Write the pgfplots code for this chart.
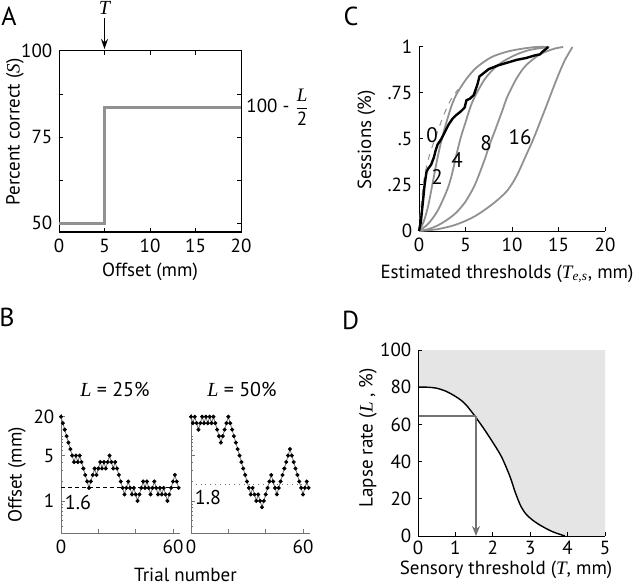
\documentclass[border=0pt]{standalone}
\usepackage{fontspec}
\setmainfont{PT Sans}
\newfontfamily\tnr{Liberation Serif}
\usepackage{pgfplots}
\usepackage{pgfplotstable}
\pgfplotsset{compat=1.18}
\usetikzlibrary{arrows.meta}
\newcommand{\vi}[1]{{\tnr\itshape #1}}
\definecolor{lgray}{gray}{0.57}
\definecolor{agray}{gray}{0.45}

\pgfplotstableread{
t y
0 20
1 15.89
2 12.62
3 10.02
4 7.96
5 6.32
6 5.02
7 3.99
8 5.02
9 3.99
10 5.02
11 3.99
12 3.17
13 2.52
14 2.00
15 1.59
16 2.00
17 2.52
18 3.17
19 2.52
20 3.17
21 3.99
22 3.17
23 3.99
24 3.17
25 3.99
26 5.02
27 3.99
28 3.17
29 3.99
30 3.17
31 2.52
32 2.00
33 1.59
34 1.26
35 1.59
36 2.00
37 1.59
38 1.26
39 1.59
40 1.26
41 1.00
42 1.26
43 1.59
44 2.00
45 1.59
46 2.00
47 1.59
48 1.26
49 1.59
50 2.00
51 1.59
52 1.26
53 1.59
54 1.26
55 1.59
56 1.26
57 1.00
58 1.26
59 1.59
60 2.00
61 2.52
62 2.00
63 1.59
}\leftdata

\pgfplotstableread{
t y
0 20
1 15.89
2 20
3 15.89
4 12.62
5 15.89
6 20
7 15.89
8 20
9 15.89
10 20
11 15.89
12 20
13 15.89
14 12.62
15 10.02
16 7.96
17 10.02
18 12.62
19 15.89
20 20
21 15.89
22 12.62
23 10.02
24 7.96
25 6.32
26 5.02
27 3.99
28 3.17
29 2.52
30 2.00
31 1.59
32 1.26
33 1.59
34 1.26
35 1.00
36 1.26
37 1.00
38 0.80
39 1.00
40 1.26
41 1.59
42 2.00
43 2.52
44 2.00
45 1.59
46 1.26
47 1.59
48 2.00
49 2.52
50 3.17
51 3.99
52 5.02
53 6.32
54 5.02
55 3.99
56 3.17
57 2.52
58 2.00
59 1.59
60 1.26
61 1.59
62 2.00
63 1.59
}\rightdata

\begin{document}
\fontsize{9.5}{11}\selectfont
\begin{tikzpicture}
\path[use as bounding box] (0,0) rectangle (320pt,-293.5pt);
\pgfplotsset{every axis/.append style={
  scale only axis, anchor=south west,
  font=\fontsize{9.5}{11}\selectfont,
  /pgf/number format/assume math mode=true,
  axis line style={line width=0.5pt},
  every tick/.style={line width=0.5pt, black},
  major tick length=2pt, minor tick length=1.2pt,
  tick align=inside,
  clip=false}}

% ---------- Panel A ----------
\begin{axis}[at={(29.5pt,-116pt)}, width=91pt, height=90.5pt,
  xmin=0, xmax=20, ymin=47.4, ymax=100,
  xtick={0,5,10,15,20}, ytick={50,62.5,75,87.5,100},
  yticklabels={50,,75,,100}]
\addplot[lgray, line width=1.5pt] coordinates {(0,50)(5,50)(5,83.7)(20,83.7)};
\end{axis}
\draw[-{Stealth[length=5pt,width=3.5pt]}, line width=0.6pt] (52.25pt,-9pt) -- (52.25pt,-24.5pt);
\node at (52.25pt,-3.8pt) {\fontsize{10}{12}\selectfont\vi{T}};
\node[anchor=west, inner sep=0pt] at (123pt,-53.5pt) {100 - $\displaystyle\frac{\hbox{\vi{L}}}{\hbox{2}}$};
\node[rotate=90] at (7.5pt,-66pt) {Percent correct (\vi{S})};
\node at (75pt,-136pt) {Offset (mm)};
\node at (4.5pt,-8pt) {\fontsize{13}{15}\selectfont A};

% ---------- Panel C ----------
\begin{axis}[at={(209.5pt,-115.5pt)}, width=93pt, height=92pt,
  xmin=0, xmax=20, ymin=0, ymax=1,
  axis x line*=bottom, axis y line*=left,
  xtick={0,5,10,15,20}, ytick={0,0.25,0.5,0.75,1},
  yticklabels={0,.25,.5,.75,1}]
\addplot[lgray, line width=0.9pt, smooth] coordinates {(0,0)(0.5,0.05)(1,0.14)(1.5,0.27)(2,0.4)(2.5,0.51)(3,0.6)(3.5,0.68)(4,0.74)(5,0.82)(6,0.88)(7,0.92)(8,0.95)(9.5,0.975)(11,0.99)(12.6,1)(14,1)};
\addplot[lgray, line width=0.9pt, smooth] coordinates {(0,0)(1,0.04)(2,0.11)(3,0.22)(3.5,0.3)(4,0.41)(4.5,0.51)(5,0.59)(5.5,0.67)(6,0.73)(7,0.82)(8,0.88)(9,0.92)(10.5,0.96)(12,0.985)(14,1)};
\addplot[lgray, line width=0.9pt, smooth] coordinates {(0,0)(1,0.01)(2,0.03)(3,0.06)(4,0.1)(5,0.16)(6,0.25)(7,0.38)(7.6,0.47)(8.2,0.55)(9,0.66)(9.5,0.73)(10.5,0.83)(11.5,0.9)(13,0.96)(14.5,0.99)(15.5,1)};
\addplot[lgray, line width=0.9pt, smooth] coordinates {(0,0)(2,0.01)(4,0.035)(6,0.08)(8,0.15)(9.5,0.22)(10.5,0.3)(11.5,0.41)(12.3,0.5)(13,0.59)(13.7,0.68)(14.3,0.76)(15,0.85)(15.7,0.93)(16.5,1)};
\addplot[lgray, line width=0.5pt, dashed, smooth] coordinates {(0,0)(0.15,0.1)(0.35,0.2)(0.6,0.3)(1,0.39)(1.5,0.47)(2,0.54)(2.5,0.61)(3,0.67)(3.5,0.72)(4.2,0.77)};
\addplot[black, line width=1.2pt] coordinates {(0,0)(0.2,0.05)(0.4,0.15)(0.6,0.25)(0.8,0.32)(1.0,0.34)(1.3,0.36)(1.6,0.4)(1.8,0.44)(2.0,0.47)(2.4,0.5)(2.8,0.54)(3.2,0.58)(3.6,0.61)(4.0,0.63)(4.5,0.65)(4.9,0.67)(5.1,0.71)(5.5,0.72)(5.9,0.74)(6.1,0.77)(6.3,0.8)(6.5,0.84)(7.0,0.86)(7.5,0.88)(8.5,0.9)(9.5,0.915)(10.5,0.93)(11.5,0.94)(12.5,0.955)(13.0,0.96)(13.3,0.975)(13.9,1)};
\end{axis}
\begin{scope}[font=\fontsize{10.5}{12}\selectfont]
\node at (216pt,-67.5pt) {0};
\node at (218.5pt,-88.5pt) {2};
\node at (228.5pt,-80pt) {4};
\node at (243pt,-71.5pt) {8};
\node at (260pt,-68.5pt) {16};
\end{scope}
\node[rotate=90] at (183.25pt,-70pt) {Sessions (\%)};
\node at (253.5pt,-137pt) {Estimated thresholds (\vi{T}\textsubscript{\vi{e,s}}, mm)};
\node at (175.5pt,-8.25pt) {\fontsize{13}{15}\selectfont C};

% ---------- Panel B ----------
\begin{axis}[at={(30.5pt,-266.5pt)}, width=59.5pt, height=59.5pt,
  xmin=0, xmax=63.75, ymode=log, ymin=0.32, ymax=22,
  axis x line*=bottom, axis y line*=left,
  axis line style={line width=0.4pt, agray},
  xtick={0,20,40,60}, xticklabels={0,,,60},
  ytick={1,5,20}, yticklabels={1,5,20},
  minor ytick={0.4,0.5,0.6,0.7,0.8,0.9,2,3,4,6,7,8,9,10},
  every tick/.style={line width=0.3pt, agray}]
\addplot[black, dashed, line width=0.4pt, dash pattern=on 2pt off 1.5pt] coordinates {(0,1.6)(63.75,1.6)};
\addplot[agray, line width=0.4pt, mark=*, mark size=0.8pt, mark options={fill=black, draw=black}] table[x=t, y=y] {\leftdata};
\end{axis}
\begin{axis}[at={(95.5pt,-266.5pt)}, width=59.5pt, height=59.5pt,
  xmin=0, xmax=63.75, ymode=log, ymin=0.32, ymax=22,
  axis x line*=bottom, axis y line*=left,
  axis line style={line width=0.4pt, agray},
  xtick={0,20,40,60}, xticklabels={0,,,60},
  ytick={1,5,20}, yticklabels={,,},
  minor ytick={0.4,0.5,0.6,0.7,0.8,0.9,2,3,4,6,7,8,9,10},
  every tick/.style={line width=0.3pt, agray}]
\addplot[agray, dotted, line width=0.4pt] coordinates {(0,1.8)(63.75,1.8)};
\addplot[agray, line width=0.4pt, mark=*, mark size=0.8pt, mark options={fill=black, draw=black}] table[x=t, y=y] {\rightdata};
\end{axis}
\begin{scope}[font=\fontsize{10}{12}\selectfont]
\node at (57.5pt,-194.5pt) {\vi{L} = 25\%};
\node at (121pt,-194.5pt) {\vi{L} = 50\%};
\node at (39pt,-251pt) {1.6};
\node at (104pt,-248.5pt) {1.8};
\end{scope}
\node[rotate=90] at (8.5pt,-237.5pt) {Offset (mm)};
\node at (92.75pt,-287.5pt) {Trial number};
\node at (3.5pt,-158.5pt) {\fontsize{13}{15}\selectfont B};

% ---------- Panel D ----------
\begin{axis}[at={(209pt,-268pt)}, width=93.5pt, height=93pt,
  xmin=0, xmax=5, ymin=0, ymax=100,
  axis x line*=bottom, axis y line*=left, axis on top,
  xtick={0,1,2,3,4,5}, ytick={0,20,40,60,80,100},
  xticklabel style={yshift=1pt}]
\addplot[fill=gray!20, draw=none] coordinates {(0,80)(0.25,80)(0.49,79.5)(0.75,77.8)(0.98,75.3)(1.15,73)(1.29,70.4)(1.52,64.5)(1.75,58)(1.96,51.6)(2.23,42.7)(2.46,31.9)(2.6,23.5)(2.75,16)(2.9,11.5)(3.1,8)(3.3,5.4)(3.6,2.3)(3.93,0)(5,0)(5,100)(0,100)} -- cycle;
\addplot[black, line width=0.7pt, smooth] coordinates {(0,80)(0.25,80)(0.49,79.5)(0.75,77.8)(0.98,75.3)(1.15,73)(1.29,70.4)(1.52,64.5)(1.75,58)(1.96,51.6)(2.23,42.7)(2.46,31.9)(2.6,23.5)(2.75,16)(2.9,11.5)(3.1,8)(3.3,5.4)(3.6,2.3)(3.93,0)};
\addplot[agray, line width=0.7pt] coordinates {(0,64.5)(1.55,64.5)};
\addplot[agray, line width=0.7pt, -{Stealth[length=5pt,width=4pt]}] coordinates {(1.55,64.5)(1.55,0)};
\end{axis}
\node[rotate=90] at (184pt,-218.75pt) {Lapse rate (\vi{L} , \%)};
\node at (253pt,-284.8pt) {Sensory threshold (\vi{T}, mm)};
\node at (175.25pt,-160pt) {\fontsize{13}{15}\selectfont D};
\end{tikzpicture}
\end{document}
